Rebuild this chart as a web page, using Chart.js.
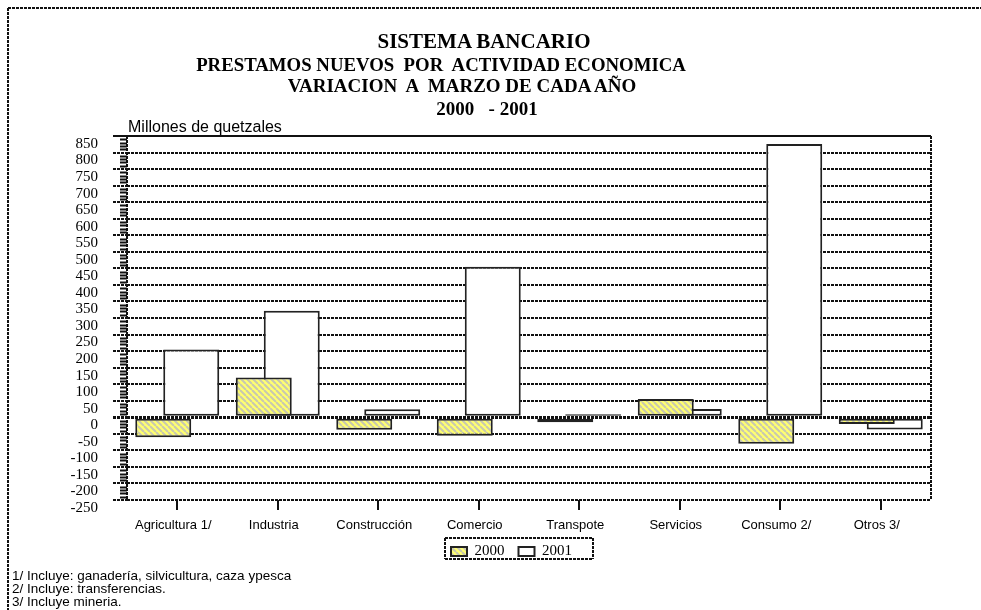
<!DOCTYPE html>
<html>
<head>
<meta charset="utf-8">
<script src="https://cdn.jsdelivr.net/npm/chart.js@4.4.0/dist/chart.umd.min.js"></script>
<style>
body{margin:0;background:#fff;}
#wrap{position:relative;width:981px;height:610px;overflow:hidden;}
canvas{position:absolute;left:0;top:0;}
.t{position:absolute;width:600px;text-align:center;font-family:"Liberation Serif","Times New Roman",serif;font-weight:bold;white-space:pre;color:#000;}
.s{position:absolute;font-family:"Liberation Sans",Arial,sans-serif;white-space:pre;color:#000;}
</style>
</head>
<body>
<div id="wrap">
<canvas id="myChart" width="981" height="610"></canvas>
<div class="t" style="left:184px;top:29px;font-size:21px;">SISTEMA BANCARIO</div>
<div class="t" style="left:141px;top:54px;font-size:18.8px;">PRESTAMOS NUEVOS  POR  ACTIVIDAD ECONOMICA</div>
<div class="t" style="left:162px;top:74.5px;font-size:19px;">VARIACION  A  MARZO DE CADA AÑO</div>
<div class="t" style="left:187px;top:98px;font-size:19px;">2000   - 2001</div>
<div class="s" style="left:128px;top:118px;font-size:16px;">Millones de quetzales</div>
<div class="s" style="left:12px;top:569px;font-size:13.5px;line-height:13px;">1/ Incluye: ganadería, silvicultura, caza ypesca
2/ Incluye: transferencias.
3/ Incluye mineria.</div>
</div>
<script>
//Datos (millones de quetzales)
var categorias = ['Agricultura 1/', 'Industria', 'Construcción', 'Comercio', 'Transpote', 'Servicios', 'Consumo 2/', 'Otros 3/'];
var valores2000 = [-60, 120, -38, -56, -15, 55, -80, -20];
var valores2001 = [205, 322, 24, 455, 9, 25, 826, -37];
var minY = -250;
var maxY = 850;
var pasoY = 50;

var ctx = document.getElementById('myChart').getContext('2d');

function rayado(){
    var c = document.createElement('canvas');
    c.width = 6; c.height = 6;
    var g = c.getContext('2d');
    g.fillStyle = '#ffff70';
    g.fillRect(0, 0, 6, 6);
    g.strokeStyle = '#c8c8b0';
    g.lineWidth = 2;
    g.beginPath();
    [-6, 0, 6].forEach(k => { g.moveTo(k, 0); g.lineTo(k + 6, 6); });
    g.stroke();
    return ctx.createPattern(c, 'repeat');
}

function linea(c, x1, y1, x2, y2, w, dash){
    c.save();
    c.strokeStyle = '#111';
    c.lineWidth = w;
    c.setLineDash(dash || []);
    c.beginPath();
    c.moveTo(x1, y1);
    c.lineTo(x2, y2);
    c.stroke();
    c.restore();
}

//marco, ejes y leyenda
var marco = {
    id: 'marco',
    afterLayout(chart){
        var lg = chart.legend;
        var w = lg.right - lg.left, h = lg.bottom - lg.top;
        lg.left = 451 - 14; lg.right = lg.left + w;
        lg.top = 530; lg.bottom = lg.top + h;
    },
    beforeDraw(chart){
        var c = chart.ctx;
        linea(c, 8, 8, 8, 610, 2, [3, 1]);
        linea(c, 8, 8, 981, 8, 2, [3, 1]);
    },
    afterDraw(chart){
        var c = chart.ctx, a = chart.chartArea, y = chart.scales.y;
        linea(c, a.left - 14, a.top, a.right, a.top, 2);
        linea(c, a.right, a.top, a.right, a.bottom, 2, [3, 1]);
        linea(c, a.left, a.top, a.left, a.bottom, 2, [3, 1]);
        for (var v = minY; v <= maxY; v += 10) {
            if (v % pasoY == 0) continue;
            var p = Math.round(y.getPixelForValue(v)) + 0.5;
            linea(c, a.left - 7, p, a.left, p, 2);
        }
        linea(c, 445, 538, 593, 538, 2, [3, 1]);
        linea(c, 445, 559, 593, 559, 2, [3, 1]);
        linea(c, 445, 538, 445, 559, 2, [3, 1]);
        linea(c, 593, 538, 593, 559, 2, [3, 1]);
    }
};

new Chart('myChart', {
    type: 'bar',
    data: {
        labels: categorias,
        datasets: [{
            label: '2000',
            data: valores2000,
            backgroundColor: rayado(),
            borderColor: '#222',
            borderWidth: 2,
            borderSkipped: false,
            categoryPercentage: 0.557,
            barPercentage: 2.0
        },{
            label: '2001',
            data: valores2001,
            backgroundColor: '#fff',
            borderColor: '#222',
            borderWidth: 2,
            borderSkipped: false,
            categoryPercentage: 0.557,
            barPercentage: 2.0
        }]
    },
    options: {
        responsive: false,
        animation: false,
        devicePixelRatio: 1,
        layout: {padding: {left: 0, right: 50, top: 136, bottom: 33}},
        plugins: {
            title: {display: false},
            tooltip: {enabled: false},
            legend: {
                position: 'bottom',
                align: 'start',
                labels: {
                    font: {family: 'Liberation Serif', size: 15},
                    color: '#000',
                    boxWidth: 16,
                    boxHeight: 9,
                    padding: 14
                }
            }
        },
        scales: {
            x: {
                grid: {drawOnChartArea: false, offset: false, tickLength: 10, color: '#111', lineWidth: 2},
                border: {display: false},
                ticks: {font: {family: 'Liberation Sans', size: 13}, color: '#000', padding: 8, labelOffset: -4, maxRotation: 0, autoSkip: false},
                afterFit: function(s){ s.height = 38; }
            },
            y: {
                min: minY,
                max: maxY,
                ticks: {stepSize: pasoY, autoSkip: false, font: {family: 'Liberation Serif', size: 15}, color: '#000', padding: 15, labelOffset: 8},
                grid: {
                    color: '#111',
                    lineWidth: c => (c.tick && c.tick.value === 0) ? 3 : 2,
                    tickLength: 14,
                    tickBorderDash: [3, 1]
                },
                border: {display: false, dash: [3, 1]},
                afterFit: function(s){ s.width = 127; }
            }
        }
    },
    plugins: [marco]
});
</script>
</body>
</html>
